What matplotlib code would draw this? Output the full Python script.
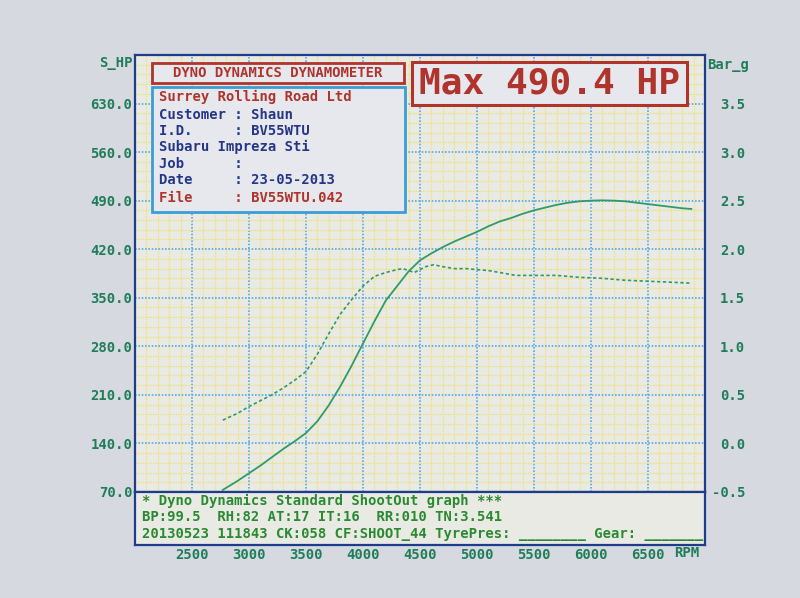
import matplotlib.pyplot as plt
from matplotlib.patches import Rectangle
from matplotlib.ticker import MultipleLocator

# Dyno run
rpm_power = [2770, 2900, 3000, 3100, 3200, 3300, 3400, 3500, 3600, 3700, 3800, 3900,
             4000, 4100, 4200, 4300, 4400, 4500, 4600, 4700, 4800, 4900, 5000, 5100,
             5200, 5300, 5400, 5500, 5600, 5700, 5800, 5900, 6000, 6100, 6200, 6300,
             6400, 6500, 6600, 6700, 6800, 6880]
power_hp = [73, 86, 97, 108, 120, 132, 143, 155, 172, 195, 222, 252,
            284, 316, 346, 367, 388, 404, 414, 423, 431, 438, 445, 453,
            460, 465, 471, 476, 480, 484, 487, 489, 490, 490.4, 490, 489,
            487, 485, 483, 481, 479, 478]

rpm_boost = [2770, 2900, 3000, 3100, 3200, 3300, 3400, 3500, 3600, 3700, 3800, 3900,
             4000, 4100, 4200, 4300, 4350, 4450, 4550, 4620, 4700, 4800, 4900, 5000,
             5100, 5200, 5340, 5500, 5700, 5900, 6100, 6300, 6500, 6700, 6880]
boost_bar = [0.24, 0.31, 0.38, 0.44, 0.50, 0.57, 0.65, 0.74, 0.92, 1.13, 1.33, 1.48,
             1.62, 1.72, 1.76, 1.79, 1.80, 1.76, 1.82, 1.84, 1.82, 1.80, 1.80, 1.79,
             1.78, 1.76, 1.73, 1.73, 1.73, 1.71, 1.70, 1.68, 1.67, 1.66, 1.65]

hp_ticks = [70, 140, 210, 280, 350, 420, 490, 560, 630]
bar_ticks = [-0.5, 0.0, 0.5, 1.0, 1.5, 2.0, 2.5, 3.0, 3.5]
rpm_ticks = [2500, 3000, 3500, 4000, 4500, 5000, 5500, 6000, 6500]

info_lines = [
    ("Surrey Rolling Road Ltd", "red"),
    ("Customer : Shaun", "blue"),
    ("I.D.     : BV55WTU", "blue"),
    ("Subaru Impreza Sti", "blue"),
    ("Job      :", "blue"),
    ("Date     : 23-05-2013", "blue"),
    ("File     : BV55WTU.042", "red"),
]
footer_lines = [
    "* Dyno Dynamics Standard ShootOut graph ***",
    "BP:99.5  RH:82 AT:17 IT:16  RR:010 TN:3.541",
    "20130523 111843 CK:058 CF:SHOOT_44 TyrePres: ________ Gear: _______",
]

MONO = "DejaVu Sans Mono"
TICK_GREEN = "#1f7d58"
TEXT_GREEN = "#2a8a30"
CURVE = "#2f9a6e"
RED = "#b0342c"
NAVY = "#1d3c8c"
LIGHT_BLUE = "#3a9ed6"
INK_BLUE = "#26358a"
PAPER = "#e9eae4"

fig = plt.figure(figsize=(8, 5.98), dpi=100, facecolor="#d6d9e0")

ax = fig.add_axes([0.16875, 0.1773, 0.7125, 0.7308])
ax.set_facecolor(PAPER)
ax.set_xlim(2000, 7000)
ax.set_ylim(70, 700)
ax.set_xticks(rpm_ticks)
ax.set_yticks(hp_ticks)
ax.xaxis.set_minor_locator(MultipleLocator(100))
ax.yaxis.set_minor_locator(MultipleLocator(14))
ax.grid(which="minor", color="#ede184", ls=(0, (1.2, 0.8)), lw=0.9)
ax.grid(which="major", color="#5aa9e0", ls=(0, (1, 1)), lw=1.2)
ax.set_axisbelow(True)
ax.tick_params(which="both", length=0)
ax.tick_params(axis="x", labelbottom=False)
ax.tick_params(axis="y", pad=2, labelsize=10, labelcolor=TICK_GREEN)
ax.set_yticklabels([f"{v:.1f}" for v in hp_ticks], family=MONO, weight="bold")
for s in ax.spines.values():
    s.set_color(NAVY)
    s.set_linewidth(1.6)

ax.plot(rpm_power, power_hp, color=CURVE, lw=1.3, zorder=3)

ax2 = ax.twinx()
ax2.set_ylim(-0.5, 4.0)
ax2.set_yticks(bar_ticks)
ax2.tick_params(length=0, pad=29, labelsize=10, labelcolor=TICK_GREEN)
ax2.set_yticklabels([f"{v:.1f}" for v in bar_ticks], family=MONO, weight="bold", ha="right")
for s in ax2.spines.values():
    s.set_visible(False)
ax2.plot(rpm_boost, boost_bar, color=CURVE, lw=1.2, ls=(0, (2, 1.5)), zorder=3)

# axis titles
ax.text(-0.005, 0.982, "S_HP", transform=ax.transAxes, ha="right", va="center",
        family=MONO, weight="bold", fontsize=10, color=TICK_GREEN)
ax.text(1.004, 0.977, "Bar_g", transform=ax.transAxes, ha="left", va="center",
        family=MONO, weight="bold", fontsize=10, color=TICK_GREEN)

# header boxes
ax2.add_patch(Rectangle((0.030, 0.936), 0.442, 0.046, transform=ax.transAxes,
                        fc="#e6e8ee", ec=RED, lw=2, zorder=5))
ax2.text(0.251, 0.959, "DYNO DYNAMICS DYNAMOMETER", transform=ax.transAxes,
         ha="center", va="center", family=MONO, weight="bold", fontsize=10,
         color=RED, zorder=6)
ax2.add_patch(Rectangle((0.030, 0.641), 0.444, 0.286, transform=ax.transAxes,
                        fc="#e6e8ee", ec=LIGHT_BLUE, lw=2, zorder=5))
line_y = [0.904, 0.863, 0.826, 0.789, 0.751, 0.714, 0.673]
for (txt, col), yy in zip(info_lines, line_y):
    ax2.text(0.042, yy, txt, transform=ax.transAxes, ha="left", va="center",
             family=MONO, weight="bold", fontsize=10,
             color=RED if col == "red" else INK_BLUE, zorder=6)

ax2.add_patch(Rectangle((0.486, 0.886), 0.482, 0.098, transform=ax.transAxes,
                        fc="#e6e8ee", ec=RED, lw=2.2, zorder=5))
ax2.text(0.727, 0.934, f"Max {max(power_hp):.1f} HP", transform=ax.transAxes,
         ha="center", va="center", family=MONO, weight="bold", fontsize=26,
         color=RED, zorder=6)

# footer panel with run details and RPM scale
foot = fig.add_axes([0.16875, 0.0886, 0.7125, 0.0887])
foot.set_facecolor(PAPER)
foot.set_xlim(2000, 7000)
foot.set_ylim(0, 1)
foot.set_yticks([])
foot.set_xticks(rpm_ticks)
foot.set_xticklabels([str(v) for v in rpm_ticks], family=MONO, weight="bold")
foot.tick_params(axis="x", length=0, pad=2, labelsize=10, labelcolor=TICK_GREEN)
for s in foot.spines.values():
    s.set_color(NAVY)
    s.set_linewidth(1.6)
for txt, yy in zip(footer_lines, [0.84, 0.52, 0.21]):
    foot.text(0.013, yy, txt, transform=foot.transAxes, ha="left", va="center",
              family=MONO, weight="bold", fontsize=10, color=TEXT_GREEN)
foot.text(0.945, -0.15, "RPM", transform=foot.transAxes, ha="left", va="center",
          family=MONO, weight="bold", fontsize=10, color=TICK_GREEN)

fig.savefig("out.png", dpi=100, facecolor=fig.get_facecolor())
